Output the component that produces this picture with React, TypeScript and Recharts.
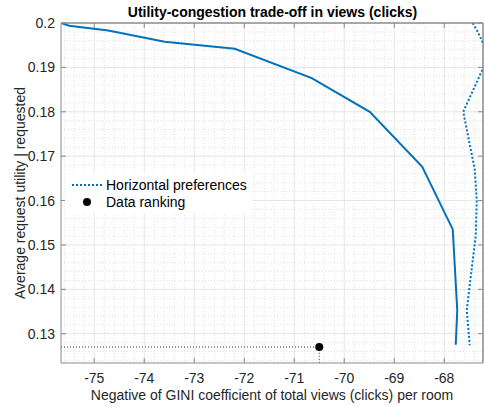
import {
  ComposedChart,
  Line,
  Scatter,
  XAxis,
  YAxis,
  ReferenceLine,
  Legend,
} from "recharts";

// MATLAB-like default blue
const BLUE = "#0072BD";
const TEXT = "#262626";
const AXIS = "#8a8a8a";
const FONT = "'Liberation Sans', Arial, Helvetica, sans-serif";

const X_MIN = -75.665;
const X_MAX = -67.225;
const Y_MIN = 0.1234;
const Y_MAX = 0.2;

const xTicks = [-75, -74, -73, -72, -71, -70, -69, -68];
const yTicks = [0.13, 0.14, 0.15, 0.16, 0.17, 0.18, 0.19, 0.2];

// minor grid every 0.2 on x, every 0.002 on y
const xMinor: number[] = [];
for (let i = -379; i <= -336; i++) {
  const v = i / 5;
  if (v > X_MIN && v < X_MAX && Math.abs(v - Math.round(v)) > 1e-6) xMinor.push(v);
}
const yMinor: number[] = [];
for (let i = 62; i <= 100; i++) {
  const v = i / 500;
  if (v > Y_MIN && v < Y_MAX && Math.abs(v * 100 - Math.round(v * 100)) > 1e-6) yMinor.push(v);
}

// solid trade-off curve (no legend entry)
const curveX = [-75.665, -75.5, -74.72, -73.59, -72.19, -70.65, -69.49, -68.44, -67.83, -67.74, -67.77];
const curveY = [0.2, 0.1994, 0.1983, 0.1958, 0.1942, 0.1876, 0.18, 0.1676, 0.1535, 0.1353, 0.1275];

// horizontal preferences (dotted)
const horizX = [-67.43, -67.32, -67.11, -67.62, -67.39, -67.35, -67.37, -67.43, -67.55, -67.49];
const horizY = [0.2, 0.1978, 0.1926, 0.18, 0.167, 0.16, 0.152, 0.1466, 0.1353, 0.1274];

// data ranking point
const rankX = -70.5;
const rankY = 0.127;

const curveData = curveX.map((x, i) => ({ x, y: curveY[i] }));
const horizData = horizX.map((x, i) => ({ x, y: horizY[i] }));
const rankData = [{ x: rankX, y: rankY }];
const guideData = [
  { x: X_MIN, y: rankY },
  { x: rankX, y: rankY },
  { x: rankX, y: Y_MIN },
];

function XTick(props: any) {
  const { x, y, payload } = props;
  return (
    <g>
      <line x1={x} x2={x} y1={y} y2={y - 5} stroke={AXIS} />
      <text x={x} y={y + 15} textAnchor="middle" dominantBaseline="central" fill={TEXT} fontSize={14} fontFamily={FONT}>
        {payload.value}
      </text>
    </g>
  );
}

function XTopTick(props: any) {
  const { x, y } = props;
  return <line x1={x} x2={x} y1={y} y2={y + 5} stroke={AXIS} />;
}

function YTick(props: any) {
  const { x, y, payload } = props;
  return (
    <g>
      <line x1={x} x2={x + 5} y1={y} y2={y} stroke={AXIS} />
      <text x={x - 6} y={y} textAnchor="end" dominantBaseline="central" fill={TEXT} fontSize={14} fontFamily={FONT}>
        {String(payload.value)}
      </text>
    </g>
  );
}

function YRightTick(props: any) {
  const { x, y } = props;
  return <line x1={x} x2={x - 5} y1={y} y2={y} stroke={AXIS} />;
}

function LegendBox() {
  return (
    <div style={{ background: "#fff", padding: "3px 6px 3px 6px", fontFamily: FONT, fontSize: 14, color: "#000" }}>
      <div style={{ display: "flex", alignItems: "center", height: 17 }}>
        <svg width={32} height={10}>
          <line x1={1} x2={31} y1={5} y2={5} stroke={BLUE} strokeWidth={2} strokeDasharray="2 2" />
        </svg>
        <span style={{ marginLeft: 3 }}>Horizontal preferences</span>
      </div>
      <div style={{ display: "flex", alignItems: "center", height: 17 }}>
        <svg width={32} height={10}>
          <circle cx={16} cy={5} r={4} fill="#000" />
        </svg>
        <span style={{ marginLeft: 3 }}>Data ranking</span>
      </div>
    </div>
  );
}

export default function App() {
  return (
    <div style={{ position: "fixed", left: 0, top: 0, width: 484, height: 407, background: "#fff" }}>
      <div
        style={{
          position: "absolute",
          left: 61,
          width: 423,
          top: 4,
          textAlign: "center",
          fontFamily: FONT,
          fontWeight: "bold",
          fontSize: 14,
          color: "#000",
          zIndex: 2,
        }}
      >
        Utility-congestion trade-off in views (clicks)
      </div>
      <ComposedChart width={484} height={407} margin={{ top: 22, right: 0, bottom: 0, left: 0 }}>
        <XAxis
          xAxisId={0}
          type="number"
          dataKey="x"
          domain={[X_MIN, X_MAX]}
          ticks={xTicks}
          allowDataOverflow
          height={44}
          tickSize={0}
          tickMargin={0}
          tickLine={false}
          axisLine={{ stroke: AXIS }}
          tick={<XTick />}
          label={{
            content: ({ viewBox }: any) => (
              <text
                x={viewBox.x + viewBox.width / 2}
                y={viewBox.y + 32}
                textAnchor="middle"
                dominantBaseline="central"
                fill={TEXT}
                fontSize={14}
                fontFamily={FONT}
              >
                Negative of GINI coefficient of total views (clicks) per room
              </text>
            ),
          }}
        />
        <XAxis
          xAxisId="top"
          orientation="top"
          type="number"
          dataKey="x"
          domain={[X_MIN, X_MAX]}
          ticks={xTicks}
          allowDataOverflow
          height={1}
          tickSize={0}
          tickMargin={0}
          tickLine={false}
          axisLine={{ stroke: AXIS }}
          tick={<XTopTick />}
        />
        <YAxis
          yAxisId={0}
          type="number"
          dataKey="y"
          domain={[Y_MIN, Y_MAX]}
          ticks={yTicks}
          allowDataOverflow
          width={61}
          tickSize={0}
          tickMargin={0}
          tickLine={false}
          axisLine={{ stroke: AXIS }}
          tick={<YTick />}
          label={{
            content: ({ viewBox }: any) => {
              const cx = viewBox.x + 20;
              const cy = viewBox.y + viewBox.height / 2;
              return (
                <text
                  x={cx}
                  y={cy}
                  transform={`rotate(-90, ${cx}, ${cy})`}
                  textAnchor="middle"
                  dominantBaseline="central"
                  fill={TEXT}
                  fontSize={14}
                  fontFamily={FONT}
                >
                  Average request utility | requested
                </text>
              );
            },
          }}
        />
        <YAxis
          yAxisId="right"
          orientation="right"
          type="number"
          dataKey="y"
          domain={[Y_MIN, Y_MAX]}
          ticks={yTicks}
          allowDataOverflow
          width={1}
          tickSize={0}
          tickMargin={0}
          tickLine={false}
          axisLine={{ stroke: AXIS }}
          tick={<YRightTick />}
        />

        {xMinor.map((v) => (
          <ReferenceLine key={`xm${v}`} x={v} stroke="#e0e0e0" strokeDasharray="1 2" />
        ))}
        {yMinor.map((v) => (
          <ReferenceLine key={`ym${v}`} y={v} stroke="#e0e0e0" strokeDasharray="1 2" />
        ))}
        {xTicks.map((v) => (
          <ReferenceLine key={`xM${v}`} x={v} stroke="#e6e6e6" />
        ))}
        {yTicks.slice(0, -1).map((v) => (
          <ReferenceLine key={`yM${v}`} y={v} stroke="#e6e6e6" />
        ))}
        {/* box edges */}
        <ReferenceLine x={X_MAX} stroke={AXIS} ifOverflow="visible" />
        <ReferenceLine y={Y_MAX} stroke={AXIS} ifOverflow="visible" />

        {/* invisible series so the mirrored top/right axes are drawn */}
        <Line
          data={curveData}
          dataKey="y"
          xAxisId="top"
          yAxisId="right"
          stroke="none"
          dot={false}
          activeDot={false}
          legendType="none"
          isAnimationActive={false}
        />

        <Line
          data={curveData}
          dataKey="y"
          type="linear"
          stroke={BLUE}
          strokeWidth={2}
          dot={false}
          activeDot={false}
          legendType="none"
          isAnimationActive={false}
        />
        <Line
          data={horizData}
          dataKey="y"
          name="Horizontal preferences"
          type="linear"
          stroke={BLUE}
          strokeWidth={2}
          strokeDasharray="2 2"
          dot={false}
          activeDot={false}
          isAnimationActive={false}
        />
        <Line
          data={guideData}
          dataKey="y"
          type="linear"
          stroke="#333"
          strokeWidth={1}
          strokeDasharray="1 2"
          dot={false}
          activeDot={false}
          legendType="none"
          isAnimationActive={false}
        />
        <Scatter
          data={rankData}
          dataKey="y"
          name="Data ranking"
          fill="#000"
          shape={(p: any) => <circle cx={p.cx} cy={p.cy} r={4} fill="#000" />}
          isAnimationActive={false}
        />
        <Legend
          layout="vertical"
          align="center"
          verticalAlign="middle"
          content={() => <LegendBox />}
          wrapperStyle={{ left: 65, top: 173, width: "auto", height: "auto" }}
        />
      </ComposedChart>
    </div>
  );
}
